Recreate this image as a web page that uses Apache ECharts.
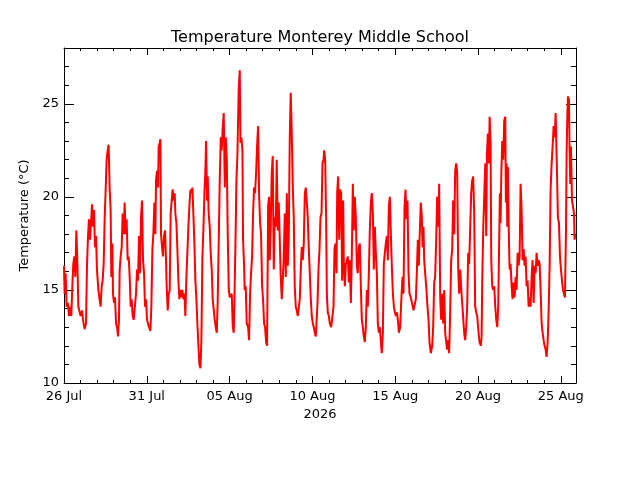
<!DOCTYPE html>
<html>
<head>
<meta charset="utf-8">
<title>Temperature Monterey Middle School</title>
<script src="https://cdn.jsdelivr.net/npm/echarts@6.0.0/dist/echarts.min.js"></script>
<style>
  html, body { margin: 0; padding: 0; background: #fff; }
  #chart { width: 640px; height: 480px; }
</style>
</head>
<body>
<div id="chart"></div>
<script>
// readings: [hours since 26 Jul 2026 00:00, temperature in degC]
var jul26_jul31 = [
  [0,16.3],[0.9,14.8],[2.4,15.9],[3.8,14.1],[5.8,14.3],[7.2,13.6],[9.2,14.1],[10.6,13.6],[12.1,15.2],[13.5,16.4],
  [15.0,16.8],[16.4,15.7],[17.9,18.2],[19.3,16.6],[20.8,14.1],[22.7,14.1],[24.1,13.6],[26.1,13.9],[27.5,13.4],[29.9,12.9],
  [31.9,13.2],[33.3,16.3],[34.8,17.9],[36.2,18.8],[37.7,17.7],[39.1,18.6],[40.6,19.6],[42.0,18.4],[43.5,19.3],[44.9,17.3],
  [46.4,17.9],[47.8,16.1],[49.8,15.0],[51.2,14.6],[53.1,14.1],[54.6,15.2],[56.0,15.5],[57.5,16.4],[58.9,18.8],[60.4,20.4],
  [61.8,22.0],[63.3,22.5],[64.7,22.8],[66.2,20.4],[67.6,19.3],[68.6,15.7],[70.1,17.5],[71.0,14.8],[72.5,14.3],[73.9,14.6],
  [75.4,13.2],[76.8,13.0],[78.3,12.5],[79.7,13.4],[80.7,16.1],[82.1,16.8],[83.6,17.3],[85.0,19.1],[86.5,18.0],[87.9,19.7],
  [89.4,18.0],[90.8,18.8],[92.3,16.6],[93.7,16.8],[95.2,15.7],[96.6,14.1],[98.1,14.5],[99.5,13.6],[101.0,13.4],[102.9,13.4],
  [104.4,14.8],[105.8,16.1],[107.3,15.5],[108.7,17.9],[110.2,15.9],[111.6,18.9],[113.1,19.8],[114.5,16.6],[116.0,15.9],[117.4,14.1],
  [118.9,14.5],[120.3,13.4],[121.8,13.2]
];
var jul31_aug05 = [
  [123.2,13.0],[125.2,12.8],[126.6,14.1],[128.1,17.2],[129.5,18.0],[131.0,19.7],[132.4,18.0],[133.4,20.9],[134.8,21.4],[136.3,20.5],
  [137.2,22.7],[138.7,22.9],[139.7,23.1],[140.6,18.0],[142.1,17.3],[143.5,16.8],[145.0,17.9],[146.4,18.2],[147.9,16.6],[148.8,15.2],
  [150.3,13.9],[151.7,14.8],[153.2,15.0],[154.6,19.1],[156.1,19.8],[157.5,20.4],[159.0,19.8],[160.4,20.2],[161.4,19.1],[162.9,18.6],
  [164.3,17.2],[165.8,15.5],[167.2,14.5],[168.7,15.0],[170.1,14.6],[171.6,15.0],[173.0,14.5],[174.5,14.8],[175.9,13.6],[177.4,15.7],
  [178.8,17.0],[180.3,18.4],[181.7,19.5],[183.2,20.4],[184.6,20.2],[186.1,20.5],[187.5,20.4],[189.0,17.5],[190.4,15.5],[191.9,14.5],
  [193.3,13.2],[194.8,12.0],[196.2,11.0],[197.7,10.8],[199.1,12.3],[200.6,16.8],[202.0,18.2],[203.5,20.2],[204.9,21.4],[205.9,23.0],
  [207.3,19.8],[208.3,21.1],[209.7,19.1],[211.2,18.4],[212.6,17.0],[214.1,16.1],[215.5,14.5],[217.0,14.5],[218.4,13.4],[219.9,13.0],
  [221.4,12.7],[222.8,14.5],[224.3,17.7],[225.7,20.9],[227.2,23.2],[228.6,22.5],[230.1,23.8],[231.5,24.5],[233.0,20.5],[234.4,23.2],
  [235.9,22.0],[237.3,18.0],[238.8,15.0],[240.2,14.6],[241.7,14.5],[243.1,14.8],[244.6,13.0],[246.0,12.7]
];
var aug05_aug10 = [
  [247.0,14.5],[248.4,17.3],[249.9,20.9],[251.3,22.2],[252.3,24.1],[253.2,25.8],[254.7,26.8],[255.7,22.9],[257.1,23.2],[258.6,22.5],
  [259.5,17.7],[261.0,16.3],[261.9,15.0],[263.4,15.2],[264.8,13.2],[266.8,13.0],[268.2,12.3],[269.7,14.8],[271.1,15.9],[272.6,16.8],
  [274.0,19.1],[275.5,20.5],[276.9,20.2],[278.4,21.3],[279.8,22.7],[281.3,23.8],[282.7,20.2],[284.2,18.6],[285.6,18.0],[287.1,15.2],
  [288.5,14.5],[290.0,13.2],[291.4,13.0],[292.9,12.2],[294.3,12.0],[295.8,19.5],[297.2,20.0],[298.2,16.6],[299.6,18.4],[301.1,21.3],
  [302.5,22.2],[304.0,16.1],[305.4,18.9],[306.9,18.4],[308.3,22.0],[309.8,18.2],[311.2,19.7],[312.7,17.7],[314.1,15.7],[315.6,14.5],
  [317.0,15.5],[318.5,16.8],[320.0,19.1],[321.4,15.7],[322.9,20.2],[324.3,16.3],[325.7,17.7],[327.2,23.2],[328.6,25.6],[330.1,23.4],
  [331.5,20.7],[333.0,18.8],[334.4,15.2],[335.9,14.1],[337.3,13.9],[338.8,13.6],[340.3,13.6],[341.7,14.5],[343.1,16.1],[344.6,17.3],
  [346.0,16.6],[347.5,17.5],[349.0,20.2],[350.4,20.5],[351.9,19.7],[353.3,18.9],[354.7,17.3],[356.2,15.9],[357.7,14.5],[359.1,13.6],
  [360.6,13.2],[362.0,13.0],[363.5,12.7],[364.9,12.5]
];
var aug10_aug15 = [
  [365.9,12.4],[367.4,14.3],[368.8,16.1],[370.3,17.2],[371.7,18.9],[373.2,19.1],[374.6,21.8],[376.1,22.0],[377.0,22.5],[378.5,22.0],
  [379.9,18.8],[380.9,14.8],[382.3,13.8],[383.8,13.6],[385.2,13.2],[387.2,13.0],[389.1,12.9],[390.6,14.1],[392.0,17.2],[393.5,17.5],
  [394.9,15.9],[395.9,20.2],[397.3,21.1],[398.8,17.7],[400.2,20.4],[401.7,20.2],[403.1,15.5],[404.6,19.8],[405.5,16.4],[407.0,15.2],
  [408.4,16.4],[409.9,16.3],[411.3,16.8],[412.8,15.4],[414.2,16.6],[415.7,14.3],[417.1,16.8],[418.6,20.7],[420.0,18.2],[421.5,20.0],
  [422.9,18.9],[424.4,16.3],[425.8,15.9],[427.3,17.3],[428.7,17.5],[430.2,15.2],[431.6,13.4],[433.1,13.0],[434.5,12.5],[436.0,12.2],
  [437.4,13.0],[438.9,15.0],[440.3,14.1],[441.8,15.9],[443.2,18.2],[444.7,19.7],[446.1,20.2],[447.6,19.1],[449.0,16.1],[450.5,18.4],
  [451.9,17.0],[453.4,15.9],[454.8,13.2],[456.3,12.7],[457.7,13.0],[459.2,12.2],[460.6,11.6],[462.1,12.7],[463.5,16.4],[465.0,17.0],
  [466.4,17.5],[467.9,17.9],[469.3,16.6],[470.8,19.5],[472.2,20.0],[473.7,18.0],[475.1,16.3],[476.6,14.8],[478.1,14.1],[479.5,13.8],
  [481.0,13.6],[482.4,13.8],[483.9,13.4],[485.3,12.7]
];
var aug15_aug20 = [
  [487.2,13.0],[488.6,14.3],[490.6,15.7],[492.0,14.8],[493.5,19.5],[494.9,20.4],[496.4,18.8],[497.8,19.8],[499.3,15.9],[500.7,14.8],
  [502.6,14.6],[504.6,14.5],[506.5,13.9],[508.4,13.8],[509.9,14.5],[511.3,15.9],[512.8,17.7],[514.2,16.3],[515.7,18.2],[517.1,19.7],
  [518.6,18.9],[519.6,17.3],[521.0,18.4],[522.0,16.6],[523.4,15.9],[524.9,15.2],[526.8,14.1],[528.3,13.4],[529.7,12.2],[531.6,11.6],
  [533.6,12.0],[535.0,13.0],[536.5,15.4],[537.9,15.7],[539.4,17.7],[540.8,20.0],[542.3,18.4],[543.7,20.7],[545.2,14.6],[546.6,13.4],
  [548.1,14.8],[549.5,13.2],[551.0,15.0],[552.4,12.7],[553.9,12.2],[555.3,11.8],[556.8,12.3],[558.2,11.6],[559.7,13.9],[561.1,16.6],
  [562.6,17.2],[564.0,19.8],[565.5,18.0],[566.9,21.4],[568.4,21.8],[569.8,21.3],[571.3,16.1],[572.7,14.8],[574.2,16.1],[576.1,14.8],
  [578.0,13.8],[580.0,12.7],[581.4,12.3],[582.9,13.0],[584.3,14.1],[585.8,17.0],[587.2,16.4],[588.7,18.4],[590.1,20.2],[591.6,20.9],
  [593.0,21.1],[594.5,19.1],[595.9,14.1],[597.4,13.8],[598.8,13.6],[600.8,12.7],[602.2,12.2],[604.2,12.0]
];
var aug20_aug25 = [
  [605.2,12.5],[606.1,15.4],[607.6,18.4],[609.0,20.0],[610.5,21.8],[611.9,17.9],[612.9,22.3],[614.3,23.4],[615.8,21.8],[616.8,24.3],
  [618.2,22.9],[619.2,16.6],[620.6,15.2],[622.1,15.0],[623.5,15.2],[625.0,14.1],[626.4,13.4],[627.9,13.0],[629.3,14.1],[630.8,17.9],
  [631.7,20.2],[632.7,18.6],[633.7,21.1],[635.1,23.0],[636.6,22.0],[638.0,24.1],[639.5,24.3],[640.4,19.7],[641.4,21.8],[642.4,18.4],
  [643.3,21.6],[644.8,17.7],[645.8,16.1],[647.2,16.4],[648.7,15.2],[650.1,14.5],[651.6,15.4],[653.0,14.6],[654.5,15.7],[655.9,15.0],
  [657.4,17.0],[658.8,16.3],[660.3,16.8],[661.7,20.7],[663.2,19.3],[664.6,16.6],[666.1,17.2],[667.5,16.3],[669.0,16.8],[670.4,15.2],
  [671.9,15.5],[673.3,14.1],[674.8,14.6],[676.2,14.1],[677.7,15.7],[679.1,16.6],[680.6,14.3],[682.0,16.3],[683.5,15.9],[684.9,17.0],
  [686.4,16.3],[687.8,16.6],[689.3,16.4],[690.7,15.0],[692.2,13.2],[693.6,12.7],[695.1,12.3],[696.5,12.0],[698.0,11.8],[699.4,11.4],
  [700.9,12.2],[702.3,13.8],[703.8,16.3],[705.2,20.4],[706.7,21.8],[708.1,22.7],[709.6,23.8],[711.0,23.2],[712.5,24.5],[713.9,24.6],
  [714.9,20.5],[715.8,18.9],[717.3,18.6],[718.8,16.8],[720.2,16.1],[721.7,15.5],[723.1,15.0],[724.6,14.8],[726.0,14.6],[727.5,18.2],
  [728.4,22.3],[729.4,24.3],[730.4,25.4],[731.8,25.2],[732.8,22.3],[733.7,20.7],[734.7,22.7],[736.2,19.8],[737.6,19.5],[739.1,19.1],
  [740.0,17.7],[741.0,18.0]
];

var startDate = Date.UTC(2026, 6, 26);
var monthNames = ['Jan', 'Feb', 'Mar', 'Apr', 'May', 'Jun', 'Jul', 'Aug', 'Sep', 'Oct', 'Nov', 'Dec'];
var yearLabel = '2026';
var titleText = 'Temperature Monterey Middle School';
var yTitle = 'Temperature (°C)';

var hourMax = 742;
var font = 'DejaVu Sans';

var readings = jul26_jul31.concat(jul31_aug05, aug05_aug10, aug10_aug15, aug15_aug20, aug20_aug25);

function dayLabel(h) {
  var d = new Date(startDate + h * 3600000);
  var day = d.getUTCDate();
  return (day < 10 ? '0' + day : day) + ' ' + monthNames[d.getUTCMonth()];
}

// box axes with ticks drawn inward, like the old IDL plots
function xAxisBox(pos, step, len, line) {
  return {
    type: 'value', position: pos, min: 0, max: hourMax, interval: step,
    axisLine: { show: line, onZero: false, lineStyle: { color: '#000', width: 1 } },
    axisTick: { show: true, inside: true, length: len, lineStyle: { color: '#000', width: 1 } },
    axisLabel: { show: false },
    splitLine: { show: false }
  };
}
function yAxisBox(pos, step, len, line) {
  return {
    type: 'value', position: pos, min: 10, max: 28, interval: step,
    axisLine: { show: line, onZero: false, lineStyle: { color: '#000', width: 1 } },
    axisTick: { show: true, inside: true, length: len, lineStyle: { color: '#000', width: 1 } },
    axisLabel: { show: false },
    splitLine: { show: false }
  };
}

var xMain = xAxisBox('bottom', 120, 7, true);
xMain.axisLabel = {
  show: true, margin: 7, color: '#000', fontFamily: font, fontSize: 13,
  showMinLabel: true, showMaxLabel: false, formatter: dayLabel
};
xMain.name = yearLabel;
xMain.nameLocation = 'middle';
xMain.nameGap = 22;
xMain.nameTextStyle = { color: '#000', fontFamily: font, fontSize: 13 };

var yMain = yAxisBox('left', 5, 10, true);
yMain.axisLabel = {
  show: true, margin: 5, color: '#000', fontFamily: font, fontSize: 13,
  showMinLabel: true, showMaxLabel: false
};
yMain.name = yTitle;
yMain.nameLocation = 'middle';
yMain.nameGap = 29;
yMain.nameTextStyle = { color: '#000', fontFamily: font, fontSize: 13 };

var myChart = echarts.init(document.getElementById('chart'), null, { renderer: 'canvas' });

var option = {
  animation: false,
  backgroundColor: '#fff',
  title: {
    text: titleText,
    left: 'center',
    top: 25,
    textStyle: { color: '#000', fontFamily: font, fontSize: 16, fontWeight: 'normal' }
  },
  grid: { left: 64, right: 64, top: 48, bottom: 97, containLabel: false, outerBoundsMode: 'none' },
  xAxis: [
    xMain,
    xAxisBox('bottom', 24, 3, false),
    xAxisBox('top', 120, 7, true),
    xAxisBox('top', 24, 3, false)
  ],
  yAxis: [
    yMain,
    yAxisBox('left', 1, 5, false),
    yAxisBox('right', 5, 10, true),
    yAxisBox('right', 1, 5, false)
  ],
  series: [
    {
      type: 'line',
      xAxisIndex: 0,
      yAxisIndex: 0,
      data: readings,
      showSymbol: false,
      lineStyle: { color: '#ff0000', width: 2 },
      itemStyle: { color: '#ff0000' }
    }
  ]
};

myChart.setOption(option);
</script>
</body>
</html>
